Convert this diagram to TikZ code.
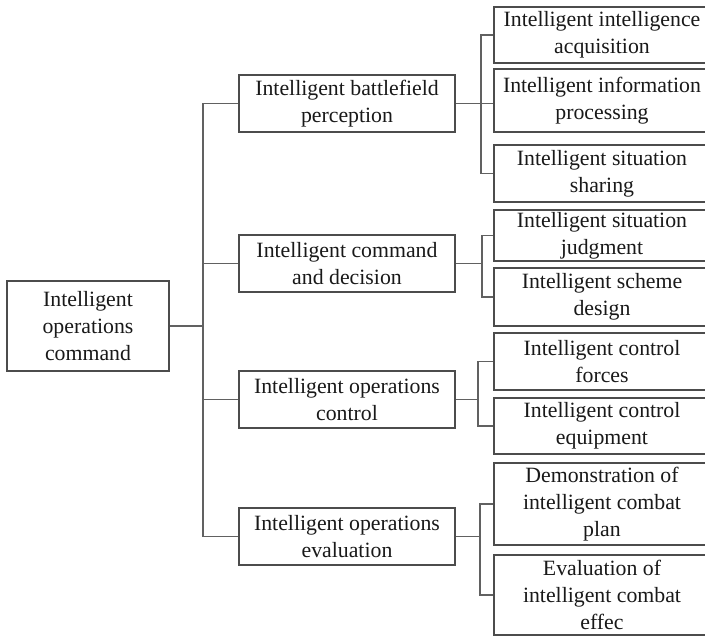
\documentclass[tikz,border=0pt]{standalone}
\usepackage{fontspec}
\setmainfont{Liberation Serif}
\begin{document}
\begin{tikzpicture}[x=1pt,y=-1pt,
  box/.style={draw=black!70, line width=2pt, fill=white, align=center,
    inner sep=0pt, text=black!90,
    font=\fontsize{21.8}{27}\selectfont},
  lvl/.style={box, minimum width=216pt},
  leaf/.style={box, minimum width=216pt},
  link/.style={draw=black!62, line width=1.3pt}]
\useasboundingbox (0,0) rectangle (705,638);

% root
\node[box, minimum width=162pt, minimum height=90pt] (root) at (88,326)
  {Intelligent\\operations\\command};

% first level
\node[lvl, minimum height=57pt] (p1) at (347,103.5) {Intelligent battlefield\\perception};
\node[lvl, minimum height=57pt] (p2) at (347,263.5) {Intelligent command\\and decision};
\node[lvl, minimum height=57pt] (p3) at (347,399.5) {Intelligent operations\\control};
\node[lvl, minimum height=57pt] (p4) at (347,536.5) {Intelligent operations\\evaluation};

% second level
\node[leaf, minimum height=56pt] (a1) at (602,35)    {Intelligent intelligence\\acquisition};
\node[leaf, minimum height=63pt] (a2) at (602,100.5) {Intelligent information\\processing};
\node[leaf, minimum height=57pt] (a3) at (602,173.5) {Intelligent situation\\sharing};
\node[leaf, minimum height=51pt] (b1) at (602,235.5) {Intelligent situation\\judgment};
\node[leaf, minimum height=58pt] (b2) at (602,297)   {Intelligent scheme\\design};
\node[leaf, minimum height=57pt] (c1) at (602,361.5) {Intelligent control\\forces};
\node[leaf, minimum height=56pt] (c2) at (602,426)   {Intelligent control\\equipment};
\node[leaf, minimum height=82pt] (d1) at (602,504)   {Demonstration of\\intelligent combat\\plan};
\node[leaf, minimum height=80pt] (d2) at (602,595)   {Evaluation of\\intelligent combat\\effec};

% trunk from the root
\coordinate (t) at (203,0);
\draw[link] (root.east) -- (root.east -| t);
\draw[link] (p1.west) -- (p1.west -| t) |- (p4.west);
\draw[link] (p2.west) -- (p2.west -| t);
\draw[link] (p3.west) -- (p3.west -| t);

% branch brackets
\coordinate (ta) at (481,0);
\coordinate (tb) at (482,0);
\coordinate (tc) at (478,0);
\coordinate (td) at (480,0);

\draw[link] (a1.west) -- (a1.west -| ta) |- (a3.west);
\draw[link] (p1.east) -- (p1.east -| a2.west);

\draw[link] (b1.west) -- (b1.west -| tb) |- (b2.west);
\draw[link] (p2.east) -- (p2.east -| tb);

\draw[link] (c1.west) -- (c1.west -| tc) |- (c2.west);
\draw[link] (p3.east) -- (p3.east -| tc);

\draw[link] (d1.west) -- (d1.west -| td) |- (d2.west);
\draw[link] (p4.east) -- (p4.east -| td);
\end{tikzpicture}
\end{document}
